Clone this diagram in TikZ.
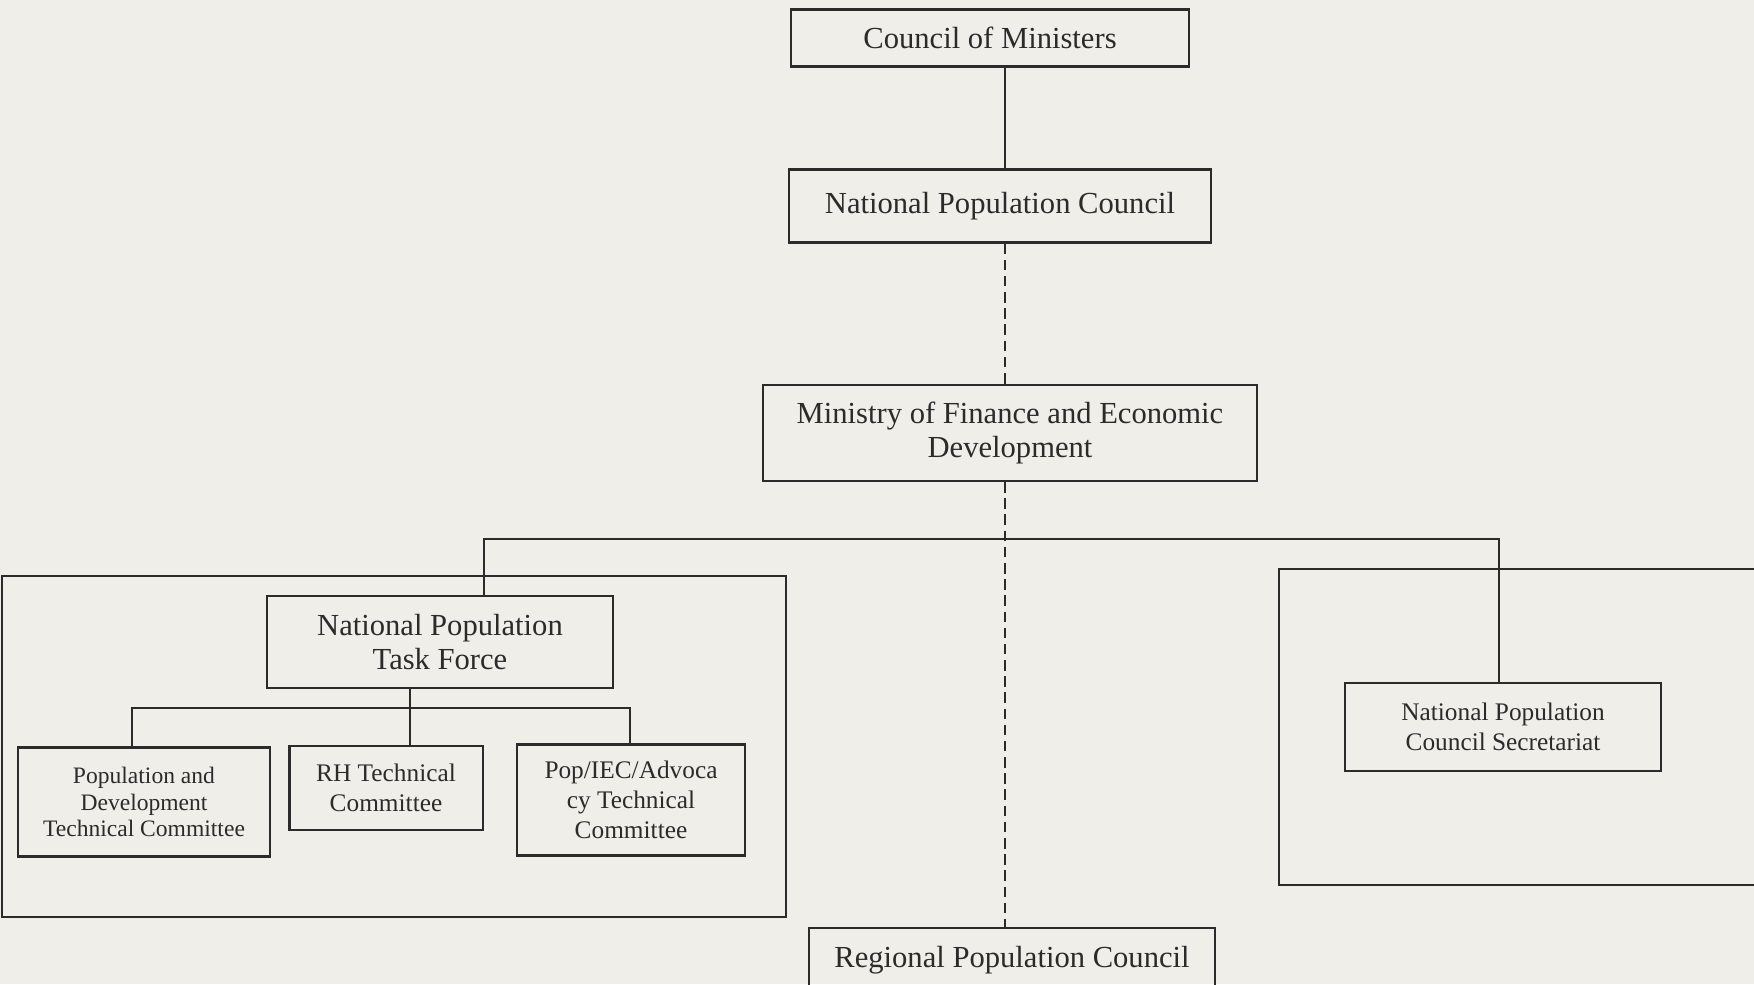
\documentclass[tikz,border=0pt]{standalone}
\usepackage{fontspec}
\setmainfont{Liberation Serif}
\usepackage{tikz}
\usetikzlibrary{positioning}
\definecolor{paper}{HTML}{EFEEE9}
\definecolor{ink}{HTML}{2B2B2B}
\tikzset{
  orgbox/.style={draw=ink, line width=0.6pt, text=ink, inner sep=0pt, align=center,
    font=\fontsize{8.7}{9.9}\selectfont},
  subbox/.style={orgbox, font=\fontsize{7.2}{8.5}\selectfont},
  link/.style={draw=ink, line width=0.55pt},
  dashlink/.style={link, dash pattern=on 3pt off 1.6pt}
}

\begin{document}
\begin{tikzpicture}[x=0.01cm, y=-0.01cm]
  \clip (0,0) rectangle (1754,984);
  \fill[paper] (0,0) rectangle (1754,984);

  % top of the chain
  \node[orgbox, minimum width=3.97cm, minimum height=0.57cm] (com) at (990,38) {Council of Ministers};
  \node[orgbox, minimum width=4.21cm, minimum height=0.73cm] (npc) at (1000,206) {National Population Council};
  \node[orgbox, minimum width=4.94cm, minimum height=0.96cm] (mofed) at (1010,433) {Ministry of Finance and Economic\\Development};

  % task force and its committees
  \node[orgbox, minimum width=3.46cm, minimum height=0.92cm] (npt) at (440,642) {National Population\\Task Force};
  \node[subbox, font=\fontsize{6.7}{7.6}\selectfont, minimum width=2.51cm, minimum height=1.09cm] (pdtc) at (144,802) {Population and\\Development\\Technical Committee};
  \node[subbox, minimum width=1.93cm, minimum height=0.84cm] (rhtc) at (386,788) {RH Technical\\Committee};
  \node[subbox, minimum width=2.28cm, minimum height=1.11cm] (ietc) at (631,800) {Pop/IEC/Advoca\\cy Technical\\Committee};

  \node[subbox, minimum width=3.15cm, minimum height=0.88cm] (npcs) at (1503,727) {National Population\\Council Secretariat};
  \node[orgbox, minimum width=4.05cm, minimum height=0.64cm] (rpc) at (1012,960) {Regional Population Council};

  % connectors
  \coordinate (spine) at (1005,0);
  \draw[link] (com.south -| spine) -- (npc.north -| spine);
  \draw[dashlink] (npc.south -| spine) -- (mofed.north -| spine);
  \draw[dashlink] (mofed.south -| spine) -- (rpc.north -| spine);

  \coordinate (barL) at (484,539);
  \coordinate (barR) at (1499,539);
  \draw[link] (npt.north -| barL) -- (barL) -- (barR) -- (npcs.north -| barR);

  \coordinate (subL) at (132,708);
  \coordinate (subM) at (410,708);
  \coordinate (subR) at (630,708);
  \draw[link] (npt.south -| subM) -- (rhtc.north -| subM);
  \draw[link] (pdtc.north -| subL) -- (subL) -- (subR) -- (ietc.north -| subR);

  % frames
  \draw[link] (2,576) rectangle (786,917);
  \draw[link] (1760,569) -- (1279,569) -- (1279,885) -- (1760,885);
\end{tikzpicture}
\end{document}
